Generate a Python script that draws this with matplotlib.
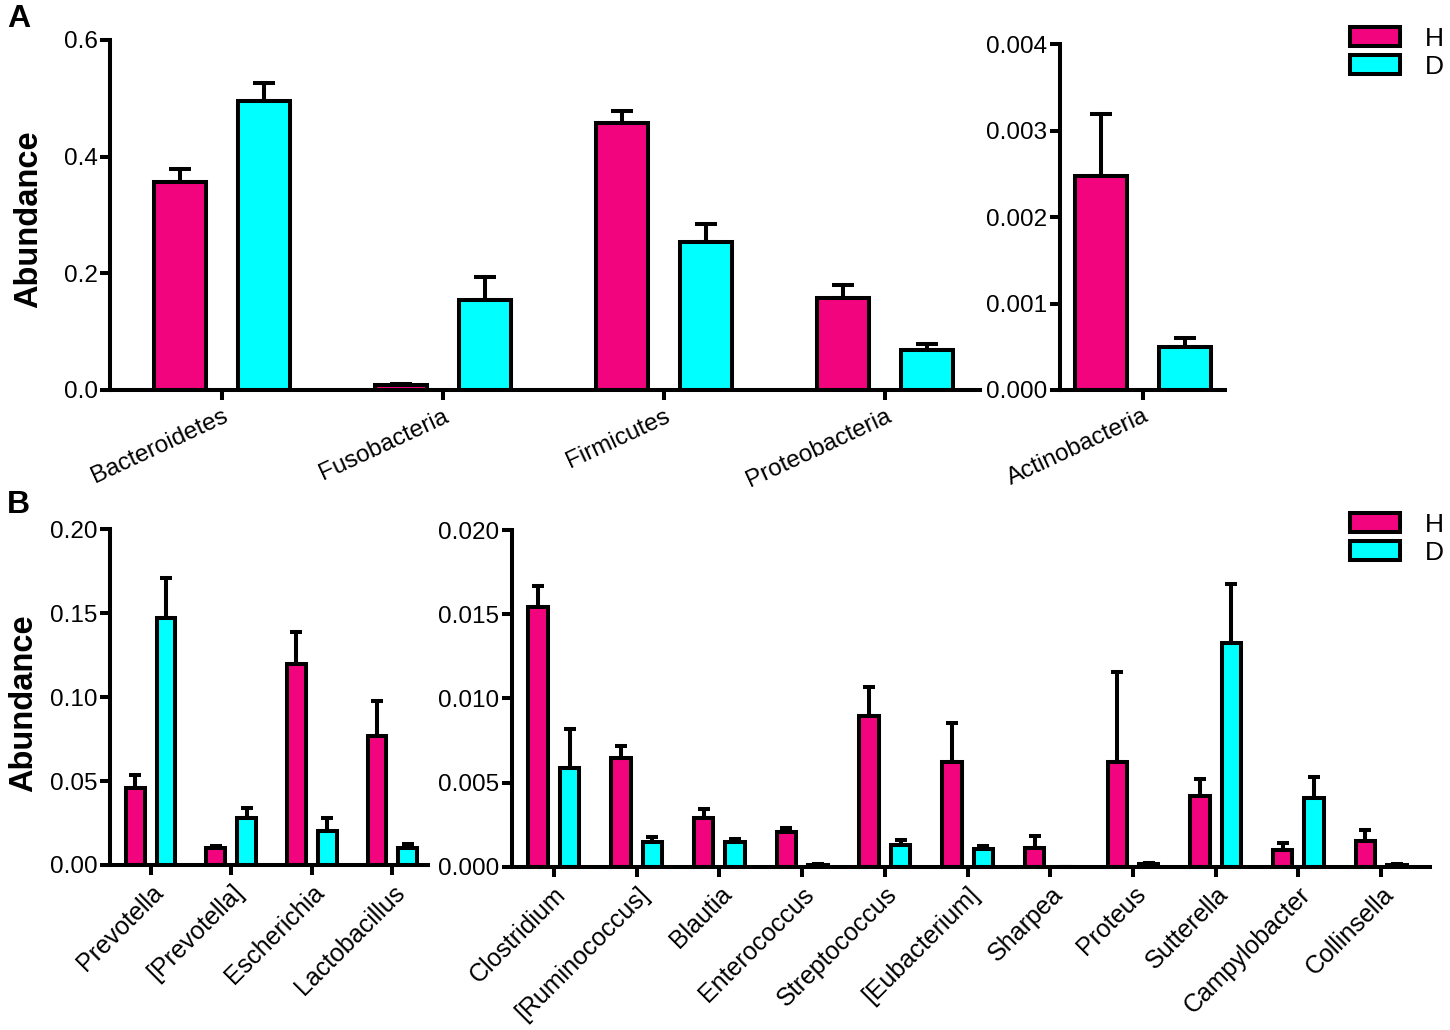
import numpy as np
import matplotlib
matplotlib.use('Agg')
import matplotlib.pyplot as plt
from matplotlib.patches import Patch

plt.rcParams['font.family'] = ['Liberation Sans', 'DejaVu Sans']

# panel A, phyla
phyla = ['Bacteroidetes', 'Fusobacteria', 'Firmicutes', 'Proteobacteria']
phyla_h = [0.357, 0.008, 0.457, 0.158]
phyla_h_sem = [0.022, 0.003, 0.022, 0.022]
phyla_d = [0.495, 0.155, 0.254, 0.0686]
phyla_d_sem = [0.031, 0.039, 0.030, 0.0098]

actino = ['Actinobacteria']
actino_h = [0.00248]
actino_h_sem = [0.00071]
actino_d = [0.0005]
actino_d_sem = [0.0001]

# panel B, genera
genera1 = ['Prevotella', '[Prevotella]', 'Escherichia', 'Lactobacillus']
genera1_h = [0.0457, 0.0099, 0.120, 0.0769]
genera1_h_sem = [0.0079, 0.0014, 0.019, 0.021]
genera1_d = [0.147, 0.0282, 0.0203, 0.0103]
genera1_d_sem = [0.0238, 0.0056, 0.0075, 0.0022]

genera2 = ['Clostridium', '[Ruminococcus]', 'Blautia', 'Enterococcus', 'Streptococcus',
           '[Eubacterium]', 'Sharpea', 'Proteus', 'Sutterella', 'Campylobacter', 'Collinsella']
genera2_h = [0.01541, 0.00648, 0.00287, 0.00204, 0.00897, 0.0062, 0.00113, 0.0062,
             0.0042, 0.00099, 0.00154]
genera2_h_sem = [0.00127, 0.00069, 0.00054, 0.00028, 0.00169, 0.00236, 0.00071, 0.00539,
                 0.00099, 0.00044, 0.00064]
genera2_d = [0.00585, 0.00149, 0.00145, 0.0001, 0.00129, 0.00103, 0.0, 0.00015,
             0.01331, 0.0041, 0.0001]
genera2_d_sem = [0.00233, 0.00025, 0.00019, 0.00005, 0.00029, 0.0002, 0.0, 0.0001,
                 0.00347, 0.00121, 0.00005]

H_COLOR = '#F2047F'
D_COLOR = '#00FFFF'
LW = 2.9


def bar_panel(ax, labels, h, h_sem, d, d_sem, ylim, yticks, fmt, rot, capsize, lab_fs):
    x = np.arange(len(labels))
    off, w = 0.19, 0.235
    for xs, vals, sem, col in [(x - off, h, h_sem, H_COLOR), (x + off, d, d_sem, D_COLOR)]:
        ax.bar(xs, vals, width=w, color=col, edgecolor='k', linewidth=LW, zorder=3)
        # only the upper half of the error bar, as in the original
        ax.errorbar(xs, vals, yerr=[np.zeros(len(vals)), sem], fmt='none', ecolor='k',
                    elinewidth=LW, capsize=capsize, capthick=LW, zorder=2)
    ax.set_ylim(*ylim)
    ax.set_yticks(yticks)
    ax.set_yticklabels([fmt.format(v) for v in yticks], fontsize=17.5)
    ax.set_xticks(x)
    ax.set_xticklabels(labels, fontsize=lab_fs, rotation=rot, ha='right', rotation_mode='anchor')
    for s in ['top', 'right']:
        ax.spines[s].set_visible(False)
    for s in ['left', 'bottom']:
        ax.spines[s].set_linewidth(LW)
        ax.spines[s].set_zorder(4)
    ax.tick_params(axis='both', width=LW, length=7, direction='out')
    ax.tick_params(axis='y', pad=2)
    ax.tick_params(axis='x', pad=4)


fig = plt.figure(figsize=(14.5, 10.3), dpi=100)

ax1 = fig.add_axes([0.0759, 0.6214, 0.600, 0.3398])
bar_panel(ax1, phyla, phyla_h, phyla_h_sem, phyla_d, phyla_d_sem,
          (0, 0.6), [0, 0.2, 0.4, 0.6], '{:.1f}', 25, 8, 17.5)
ax1.set_xlim(-0.507, 3.43)

ax2 = fig.add_axes([0.731, 0.6214, 0.1138, 0.3356])
bar_panel(ax2, actino, actino_h, actino_h_sem, actino_d, actino_d_sem,
          (0, 0.004), [0, 0.001, 0.002, 0.003, 0.004], '{:.3f}', 25, 8, 17.5)
ax2.set_xlim(-0.376, 0.371)

ax3 = fig.add_axes([0.0759, 0.1602, 0.2191, 0.3259])
bar_panel(ax3, genera1, genera1_h, genera1_h_sem, genera1_d, genera1_d_sem,
          (0, 0.2), [0, 0.05, 0.10, 0.15, 0.20], '{:.2f}', 45, 4.5, 18)
ax3.set_xlim(-0.505, 3.44)

ax4 = fig.add_axes([0.3529, 0.1585, 0.6333, 0.3269])
bar_panel(ax4, genera2, genera2_h, genera2_h_sem, genera2_d, genera2_d_sem,
          (0, 0.02), [0, 0.005, 0.010, 0.015, 0.020], '{:.3f}', 45, 4.5, 18)
ax4.set_xlim(-0.51, 10.59)

fig.text(29 / 1450, 1 - 219 / 1030, 'Abundance', rotation=90, fontsize=23.5,
         fontweight='bold', ha='center', va='center')
fig.text(24 / 1450, 1 - 703 / 1030, 'Abundance', rotation=90, fontsize=23.5,
         fontweight='bold', ha='center', va='center')
fig.text(19 / 1450, 1 - 19 / 1030, 'A', fontsize=23, fontweight='bold', ha='center', va='center')
fig.text(18 / 1450, 1 - 505 / 1030, 'B', fontsize=23, fontweight='bold', ha='center', va='center')

handles = [Patch(facecolor=H_COLOR, edgecolor='k', linewidth=LW),
           Patch(facecolor=D_COLOR, edgecolor='k', linewidth=LW)]
for top in [27, 513]:
    fig.legend(handles, ['H', 'D'], loc='upper left', bbox_to_anchor=(1350 / 1450, 1 - top / 1030),
               frameon=False, fontsize=19, handlelength=1.9, handleheight=0.75,
               handletextpad=0.95, labelspacing=0.15, borderpad=0, borderaxespad=0)

fig.savefig('out.png', dpi=100)
